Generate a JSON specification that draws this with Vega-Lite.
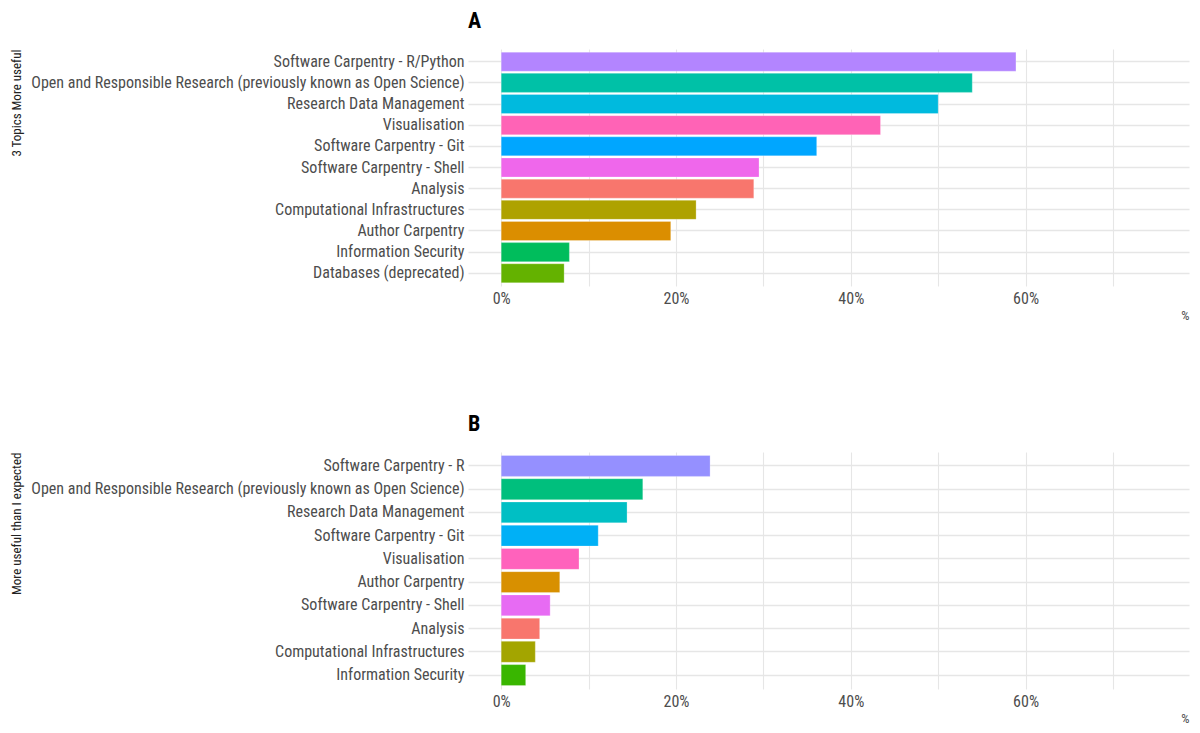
{
  "$schema": "https://vega.github.io/schema/vega-lite/v6.json",
  "background": "white",
  "padding": {"left": 9, "top": 10, "right": 8, "bottom": 8},
  "spacing": 91,
  "resolve": {"scale": {"color": "independent", "y": "independent"}},
  "datasets": {
    "useful": [
      {"topic": "Software Carpentry - R/Python", "pct": 58.9},
      {"topic": "Open and Responsible Research (previously known as Open Science)", "pct": 53.9},
      {"topic": "Research Data Management", "pct": 50.0},
      {"topic": "Visualisation", "pct": 43.4},
      {"topic": "Software Carpentry - Git", "pct": 36.1},
      {"topic": "Software Carpentry - Shell", "pct": 29.5},
      {"topic": "Analysis", "pct": 28.9},
      {"topic": "Computational Infrastructures", "pct": 22.3},
      {"topic": "Author Carpentry", "pct": 19.4},
      {"topic": "Information Security", "pct": 7.8},
      {"topic": "Databases (deprecated)", "pct": 7.2}
    ],
    "expected": [
      {"topic": "Software Carpentry - R", "pct": 23.9},
      {"topic": "Open and Responsible Research (previously known as Open Science)", "pct": 16.2},
      {"topic": "Research Data Management", "pct": 14.4},
      {"topic": "Software Carpentry - Git", "pct": 11.1},
      {"topic": "Visualisation", "pct": 8.9},
      {"topic": "Author Carpentry", "pct": 6.7},
      {"topic": "Software Carpentry - Shell", "pct": 5.6},
      {"topic": "Analysis", "pct": 4.4},
      {"topic": "Computational Infrastructures", "pct": 3.9},
      {"topic": "Information Security", "pct": 2.8}
    ]
  },
  "config": {
    "font": "Liberation Sans Narrow, Roboto Condensed, Liberation Sans",
    "view": {"stroke": null},
    "title": {"fontSize": 22, "fontWeight": "bold", "color": "black", "anchor": "start", "frame": "group", "offset": 16},
    "axis": {
      "domain": false,
      "ticks": false,
      "gridColor": "#e6e6e6",
      "gridWidth": 1.1,
      "labelColor": "#4d4d4d",
      "labelFontSize": 16,
      "titleFontSize": 13,
      "titleFontWeight": "normal",
      "titleColor": "#222"
    },
    "axisY": {"grid": true, "gridWidth": 1.5},
    "bar": {"stroke": "white", "strokeWidth": 0.5, "strokeOpacity": 0.5}
  },
  "vconcat": [
    {
      "title": "A",
      "width": 721,
      "height": 237,
      "data": {"name": "useful"},
      "mark": "bar",
      "encoding": {
        "y": {
          "field": "topic",
          "type": "nominal",
          "sort": ["Software Carpentry - R/Python", "Open and Responsible Research (previously known as Open Science)", "Research Data Management", "Visualisation", "Software Carpentry - Git", "Software Carpentry - Shell", "Analysis", "Computational Infrastructures", "Author Carpentry", "Information Security", "Databases (deprecated)"],
          "scale": {"paddingInner": 0.1, "paddingOuter": 0.15},
          "title": "3 Topics More useful",
          "axis": {"grid": true, "bandPosition": 0.5, "labelPadding": 4, "labelLimit": 600, "titleX": -452, "titleY": 0, "titleAngle": -90, "titleAlign": "right", "titleBaseline": "middle"}
        },
        "x": {
          "field": "pct",
          "type": "quantitative",
          "scale": {"domain": [-3.8, 78.7], "nice": false, "zero": false},
          "title": "%",
          "axis": {
            "values": [0, 10, 20, 30, 40, 50, 60, 70],
            "labelExpr": "datum.value % 20 == 0 ? datum.value + '%' : ''",
            "titleAnchor": "end",
            "titleFontSize": 13,
            "titleColor": "#4d4d4d",
            "titlePadding": 3,
            "labelPadding": 4
          }
        },
        "x2": {"datum": 0},
        "color": {
          "field": "topic",
          "type": "nominal",
          "legend": null,
          "scale": {
            "domain": ["Analysis", "Author Carpentry", "Computational Infrastructures", "Databases (deprecated)", "Information Security", "Open and Responsible Research (previously known as Open Science)", "Research Data Management", "Software Carpentry - Git", "Software Carpentry - R/Python", "Software Carpentry - Shell", "Visualisation"],
            "range": ["#F8766D", "#DB8E00", "#AEA200", "#64B200", "#00BD5C", "#00C1A7", "#00BADE", "#00A6FF", "#B385FF", "#EF67EB", "#FF63B6"]
          }
        }
      }
    },
    {
      "title": "B",
      "width": 721,
      "height": 237,
      "data": {"name": "expected"},
      "mark": "bar",
      "encoding": {
        "y": {
          "field": "topic",
          "type": "nominal",
          "sort": ["Software Carpentry - R", "Open and Responsible Research (previously known as Open Science)", "Research Data Management", "Software Carpentry - Git", "Visualisation", "Author Carpentry", "Software Carpentry - Shell", "Analysis", "Computational Infrastructures", "Information Security"],
          "scale": {"paddingInner": 0.1, "paddingOuter": 0.15},
          "title": "More useful than I expected",
          "axis": {"grid": true, "bandPosition": 0.5, "labelPadding": 4, "labelLimit": 600, "titleX": -452, "titleY": 0, "titleAngle": -90, "titleAlign": "right", "titleBaseline": "middle"}
        },
        "x": {
          "field": "pct",
          "type": "quantitative",
          "scale": {"domain": [-3.8, 78.7], "nice": false, "zero": false},
          "title": "%",
          "axis": {
            "values": [0, 10, 20, 30, 40, 50, 60, 70],
            "labelExpr": "datum.value % 20 == 0 ? datum.value + '%' : ''",
            "titleAnchor": "end",
            "titleFontSize": 13,
            "titleColor": "#4d4d4d",
            "titlePadding": 3,
            "labelPadding": 4
          }
        },
        "x2": {"datum": 0},
        "color": {
          "field": "topic",
          "type": "nominal",
          "legend": null,
          "scale": {
            "domain": ["Analysis", "Author Carpentry", "Computational Infrastructures", "Information Security", "Open and Responsible Research (previously known as Open Science)", "Research Data Management", "Software Carpentry - Git", "Software Carpentry - R", "Software Carpentry - Shell", "Visualisation"],
            "range": ["#F8766D", "#D89000", "#A3A500", "#39B600", "#00BF7D", "#00BFC4", "#00B0F6", "#9590FF", "#E76BF3", "#FF62BC"]
          }
        }
      }
    }
  ]
}
